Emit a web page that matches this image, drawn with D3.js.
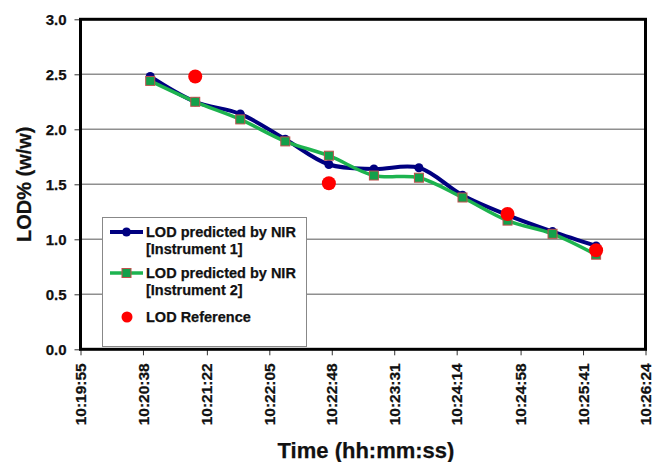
<!DOCTYPE html>
<html><head><meta charset="utf-8">
<script src="https://cdn.jsdelivr.net/npm/d3@7"></script>
<style>body{margin:0;background:#fff}svg{display:block;font-family:"Liberation Sans",Arial,sans-serif}</style>
</head><body>
<svg id="c" width="654" height="462"></svg>
<script>
const times = ["10:20:43","10:21:14","10:21:45","10:22:16","10:22:46","10:23:17","10:23:48","10:24:18","10:24:49","10:25:20","10:25:50"];
const instrument1 = [2.48,2.25,2.14,1.91,1.68,1.64,1.65,1.40,1.22,1.07,0.94];
const instrument2 = [2.44,2.25,2.09,1.89,1.76,1.58,1.56,1.38,1.17,1.05,0.86];
const refTimes = ["10:21:14","10:22:46","10:24:49","10:25:50"];
const refValues = [2.48,1.51,1.23,0.90];
const xTickLabels = ["10:19:55","10:20:38","10:21:22","10:22:05","10:22:48","10:23:31","10:24:14","10:24:58","10:25:41","10:26:24"];
const yTicks = [0,0.5,1.0,1.5,2.0,2.5,3.0];

const toSec = s => { const [h,m,x] = s.split(":").map(Number); return h*3600+m*60+x; };
const svg = d3.select("#c");
const L=80.5, R=645.5, T=19.3, B=349.3;
const x = d3.scaleLinear().domain([toSec(xTickLabels[0]), toSec(xTickLabels[xTickLabels.length-1])]).range([L,R]);
const y = d3.scaleLinear().domain([0,3]).range([B,T]);
const bold = sel => sel.attr("font-weight","bold").attr("fill","#111").attr("stroke","#111").attr("stroke-width",0.25);

// gridlines
svg.append("g").selectAll("line").data(yTicks.slice(1,-1)).join("line")
  .attr("x1",L).attr("x2",R).attr("y1",d=>y(d)).attr("y2",d=>y(d))
  .attr("stroke","#8f8f8f").attr("stroke-width",1.5);

// y axis
const ya = svg.append("g").attr("transform",`translate(${L},0)`)
  .call(d3.axisLeft(y).tickValues(yTicks).tickFormat(d3.format(".1f")).tickSize(6).tickPadding(8));
ya.select(".domain").remove();
ya.selectAll("line").attr("stroke","#333");
ya.selectAll("text").attr("font-size",15).call(bold);

// x axis
const xa = svg.append("g").attr("transform",`translate(0,${B})`)
  .call(d3.axisBottom(x).tickValues(xTickLabels.map(toSec)).tickFormat((d,i)=>xTickLabels[i]).tickSize(6));
xa.select(".domain").remove();
xa.selectAll("line").attr("stroke","#333");
xa.selectAll("text").attr("font-size",15.5).call(bold)
  .attr("transform","rotate(-90)").attr("text-anchor","end").attr("dy","0.33em").attr("y",0).attr("x",-14);

// frame
svg.append("rect").attr("x",L).attr("y",T).attr("width",R-L).attr("height",B-T)
  .attr("fill","none").attr("stroke","#000").attr("stroke-width",3);

// lines
const pts1 = times.map((t,i)=>[x(toSec(t)), y(instrument1[i])]);
const pts2 = times.map((t,i)=>[x(toSec(t)), y(instrument2[i])]);
const line = d3.line().curve(d3.curveCatmullRom.alpha(0.5));
svg.append("path").attr("d",line(pts1)).attr("fill","none").attr("stroke","#000080").attr("stroke-width",4);
svg.append("g").selectAll("circle").data(pts1).join("circle")
  .attr("cx",d=>d[0]).attr("cy",d=>d[1]).attr("r",4.5).attr("fill","#000080");
svg.append("path").attr("d",line(pts2)).attr("fill","none").attr("stroke","#1db34f").attr("stroke-width",3.5);
svg.append("g").selectAll("rect").data(pts2).join("rect")
  .attr("x",d=>d[0]-4.5).attr("y",d=>d[1]-4.5).attr("width",9).attr("height",9)
  .attr("fill","#13a04a").attr("stroke","#c0504d").attr("stroke-width",1);
svg.append("g").selectAll("circle").data(refTimes).join("circle")
  .attr("cx",d=>x(toSec(d))).attr("cy",(d,i)=>y(refValues[i])).attr("r",7).attr("fill","#ff0000");

// legend
const lg = svg.append("g");
lg.append("rect").attr("x",102.5).attr("y",217.5).attr("width",204).attr("height",129)
  .attr("fill","#fff").attr("stroke","#888").attr("stroke-width",1);
const tf = sel => sel.attr("font-size",14.5).call(bold);
lg.append("line").attr("x1",110).attr("x2",143).attr("y1",232).attr("y2",232).attr("stroke","#000080").attr("stroke-width",4);
lg.append("circle").attr("cx",126.5).attr("cy",232).attr("r",4.5).attr("fill","#000080");
lg.append("text").attr("x",146).attr("y",237).text("LOD predicted by NIR").call(tf);
lg.append("text").attr("x",146).attr("y",254).text("[Instrument 1]").call(tf);
lg.append("line").attr("x1",110).attr("x2",143).attr("y1",273).attr("y2",273).attr("stroke","#1db34f").attr("stroke-width",3.5);
lg.append("rect").attr("x",122).attr("y",268.5).attr("width",9).attr("height",9).attr("fill","#13a04a").attr("stroke","#c0504d");
lg.append("text").attr("x",146).attr("y",278).text("LOD predicted by NIR").call(tf);
lg.append("text").attr("x",146).attr("y",295).text("[Instrument 2]").call(tf);
lg.append("circle").attr("cx",127).attr("cy",317).attr("r",5.5).attr("fill","#ff0000");
lg.append("text").attr("x",146).attr("y",322).text("LOD Reference").call(tf);

// titles
svg.append("text").attr("transform",`translate(31,${(T+B)/2}) rotate(-90)`).attr("text-anchor","middle")
  .attr("font-size",20).call(bold).text("LOD% (w/w)");
svg.append("text").attr("x",366).attr("y",458).attr("text-anchor","middle")
  .attr("font-size",22).call(bold).text("Time (hh:mm:ss)");
</script>
</body></html>
